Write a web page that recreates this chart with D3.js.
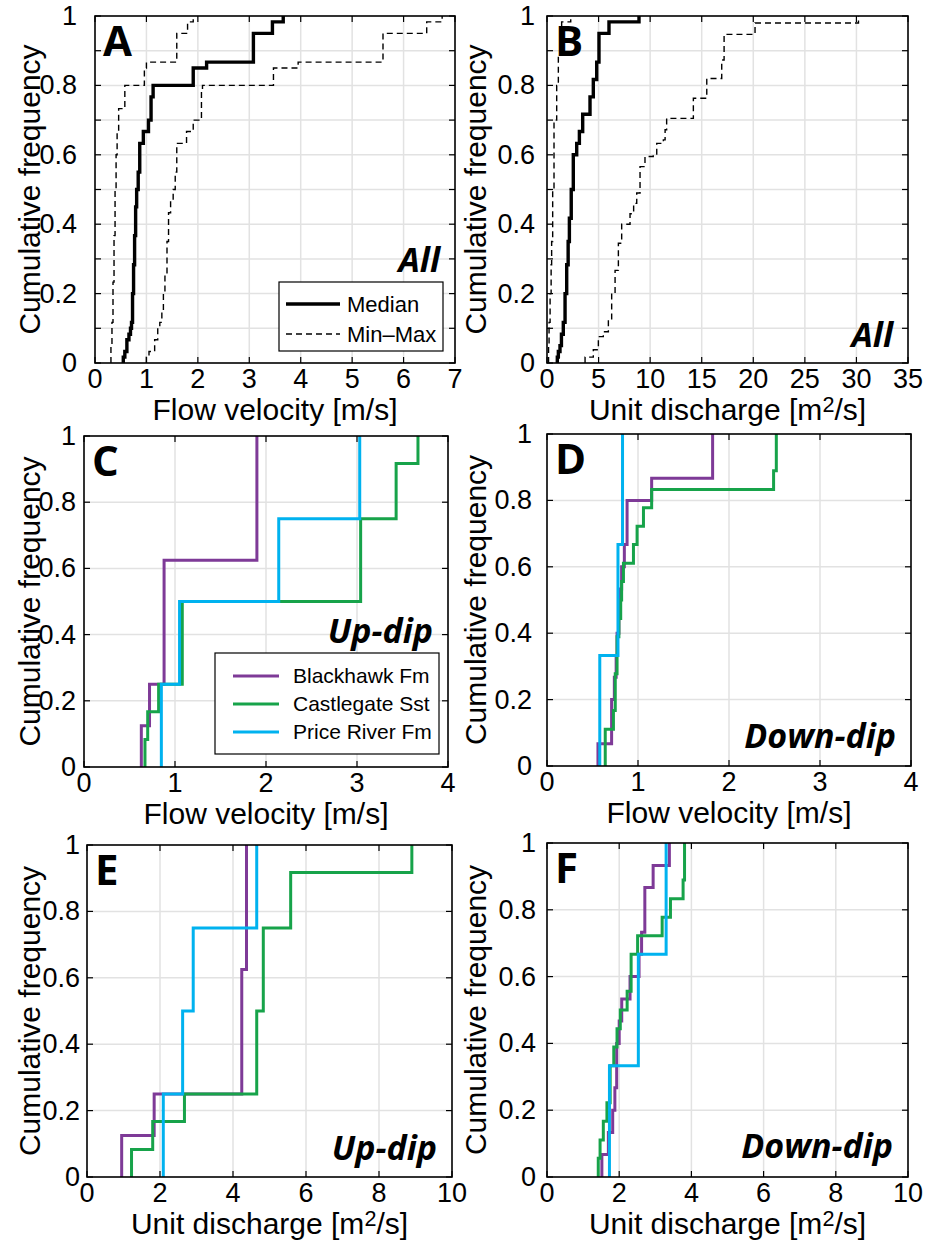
<!DOCTYPE html>
<html><head><meta charset="utf-8">
<script src="https://cdn.jsdelivr.net/npm/d3@7"></script>
<style>body{margin:0;background:#fff}svg{display:block}</style>
</head><body>
<svg id="chart" width="925" height="1247"></svg>
<script>
// ---------------- DATA ----------------
const yTickLabels = ["0", "0.2", "0.4", "0.6", "0.8", "1"];
const xTicksA = [0, 1, 2, 3, 4, 5, 6, 7];
const xTicksB = [0, 5, 10, 15, 20, 25, 30, 35];
const xTicksCD = [0, 1, 2, 3, 4];
const xTicksEF = [0, 2, 4, 6, 8, 10];
const seriesNames = ["Blackhawk Fm", "Castlegate Sst", "Price River Fm"];
const summaryNames = ["Median", "Min\u2013Max"];

// Panel A: flow velocity, all (step positions x and cumulative frequency after the step)
const aMedianX = [0.55, 0.58, 0.62, 0.66, 0.69, 0.71, 0.73, 0.75, 0.77, 0.79, 0.81, 0.84, 0.87, 0.94, 1.04, 1.09, 1.13, 1.91, 2.17, 3.08, 3.45, 3.66];
const aMedianF = [0.017, 0.033, 0.067, 0.083, 0.1, 0.117, 0.2, 0.283, 0.367, 0.45, 0.5, 0.55, 0.633, 0.667, 0.7, 0.767, 0.8, 0.85, 0.867, 0.95, 0.983, 1];
const aMinX = [0.31, 0.33, 0.35, 0.37, 0.39, 0.41, 0.43, 0.46, 0.58, 0.96, 1.0, 1.59, 1.80, 1.91];
const aMinF = [0.05, 0.117, 0.233, 0.367, 0.5, 0.6, 0.667, 0.733, 0.8, 0.85, 0.867, 0.95, 0.983, 1];
const aMaxX = [1.0, 1.05, 1.16, 1.22, 1.26, 1.30, 1.33, 1.36, 1.40, 1.43, 1.47, 1.52, 1.56, 1.59, 1.78, 1.91, 2.07, 2.09, 3.47, 3.95, 5.6, 6.45, 6.75];
const aMaxF = [0.017, 0.033, 0.067, 0.1, 0.117, 0.15, 0.2, 0.25, 0.35, 0.433, 0.467, 0.5, 0.55, 0.633, 0.667, 0.7, 0.783, 0.8, 0.85, 0.867, 0.95, 0.983, 1];

// Panel B: unit discharge, all
const bMedianX = [1.0, 1.1, 1.26, 1.4, 1.58, 1.75, 1.91, 2.05, 2.17, 2.35, 2.55, 2.88, 3.14, 3.46, 4.17, 4.49, 4.82, 5.04, 6.01, 8.92];
const bMedianF = [0.017, 0.033, 0.05, 0.083, 0.117, 0.2, 0.283, 0.35, 0.417, 0.5, 0.6, 0.633, 0.667, 0.717, 0.767, 0.817, 0.867, 0.95, 0.983, 1];
const bMinX = [0.15, 0.2, 0.3, 0.4, 0.45, 0.55, 0.68, 0.94, 1.1, 1.42, 2.3];
const bMinF = [0.05, 0.117, 0.2, 0.283, 0.35, 0.5, 0.7, 0.8, 0.883, 0.983, 1];
const bMaxX = [3.69, 4.49, 4.98, 5.46, 5.95, 6.27, 6.6, 6.92, 7.24, 8.05, 8.4, 8.7, 9.02, 9.5, 10.3, 10.64, 11.28, 11.45, 11.6, 14.19, 15.49, 16.94, 17.17, 20.17, 30.2];
const bMaxF = [0.017, 0.038, 0.076, 0.09, 0.124, 0.2, 0.267, 0.345, 0.4, 0.43, 0.46, 0.49, 0.566, 0.595, 0.6, 0.633, 0.643, 0.672, 0.705, 0.763, 0.82, 0.873, 0.947, 0.98, 1];

// Panel C: flow velocity, up-dip
const cBlackhawkX = [0.63, 0.72, 0.88, 1.90];
const cBlackhawkF = [0.125, 0.25, 0.625, 1];
const cCastlegateX = [0.67, 0.70, 0.82, 1.08, 3.04, 3.43, 3.67];
const cCastlegateF = [0.083, 0.167, 0.25, 0.5, 0.75, 0.917, 1];
const cPriceRiverX = [0.85, 1.05, 2.14, 3.03];
const cPriceRiverF = [0.25, 0.5, 0.75, 1];

// Panel D: flow velocity, down-dip
const dBlackhawkX = [0.56, 0.71, 0.74, 0.76, 0.77, 0.79, 0.80, 0.82, 0.85, 0.88, 1.15, 1.82];
const dBlackhawkF = [0.067, 0.2, 0.267, 0.333, 0.4, 0.467, 0.533, 0.6, 0.667, 0.8, 0.867, 1];
const dCastlegateX = [0.64, 0.73, 0.75, 0.77, 0.79, 0.81, 0.82, 0.84, 0.95, 0.99, 1.06, 1.15, 2.49, 2.52];
const dCastlegateF = [0.111, 0.167, 0.278, 0.389, 0.444, 0.5, 0.556, 0.611, 0.667, 0.722, 0.778, 0.833, 0.889, 1];
const dPriceRiverX = [0.58, 0.78, 0.83];
const dPriceRiverF = [0.333, 0.667, 1];

// Panel E: unit discharge, up-dip
const eBlackhawkX = [0.95, 1.84, 4.24, 4.37];
const eBlackhawkF = [0.125, 0.25, 0.625, 1];
const eCastlegateX = [1.22, 1.8, 2.67, 4.65, 4.83, 5.58, 8.9];
const eCastlegateF = [0.083, 0.167, 0.25, 0.5, 0.75, 0.917, 1];
const ePriceRiverX = [2.09, 2.62, 2.91, 4.65];
const ePriceRiverF = [0.25, 0.5, 0.75, 1];

// Panel F: unit discharge, down-dip
const fBlackhawkX = [1.52, 1.70, 1.82, 1.88, 1.93, 2.00, 2.07, 2.30, 2.55, 2.62, 2.71, 2.94, 3.39];
const fBlackhawkF = [0.067, 0.133, 0.2, 0.267, 0.4, 0.467, 0.533, 0.6, 0.667, 0.733, 0.867, 0.933, 1];
const fCastlegateX = [1.42, 1.47, 1.56, 1.66, 1.75, 1.85, 1.94, 2.03, 2.22, 2.33, 2.51, 3.19, 3.42, 3.77, 3.81];
const fCastlegateF = [0.056, 0.111, 0.167, 0.222, 0.333, 0.389, 0.444, 0.5, 0.556, 0.667, 0.722, 0.778, 0.833, 0.889, 1];
const fPriceRiverX = [1.73, 2.53, 3.30];
const fPriceRiverF = [0.333, 0.667, 1];

// ---------------- STYLE / LAYOUT ----------------
const COL = {purple: "#7E3A97", green: "#17A34A", cyan: "#00B2EF"};
const SANS = "'Liberation Sans', Arial, sans-serif";
const BOLD = "'Open Sans', 'DejaVu Sans', sans-serif";
const svg = d3.select("#chart");

function txt(g, x, y, str, o) {
  const t = g.append("text")
    .attr("transform", `translate(${x},${y})` + (o.rot ? " rotate(-90)" : ""))
    .attr("font-family", o.family || SANS)
    .attr("font-size", o.size)
    .attr("font-weight", o.weight || "normal")
    .attr("font-style", o.style || "normal")
    .attr("text-anchor", o.anchor || "start")
    .attr("fill", "#000");
  if (typeof str === "string") t.text(str); else str(t);
  return t;
}
function unitDischarge(t) {
  t.append("tspan").text("Unit discharge [m");
  t.append("tspan").attr("font-size", "0.72em").attr("dy", -8).text("2");
  t.append("tspan").attr("dy", 8).text("/s]");
}

const panels = [
  {letter: "A", box: [95, 455, 16, 363], xmax: 7, xt: xTicksA, yStep: 0.1, xlab: "Flow velocity [m/s]", tag: "All", tagY: 272,
   curves: [[aMinX, aMinF, "#000", 1.4, "6,4"], [aMaxX, aMaxF, "#000", 1.4, "6,4"], [aMedianX, aMedianF, "#000", 3.4, null]], legend: "summary", ylx: 40, ytx: 77},
  {letter: "B", box: [547, 908, 16, 363], xmax: 35, xt: xTicksB, yStep: 0.1, xlab: unitDischarge, tag: "All", tagY: 347,
   curves: [[bMinX, bMinF, "#000", 1.4, "6,4"], [bMaxX, bMaxF, "#000", 1.4, "6,4"], [bMedianX, bMedianF, "#000", 3.4, null]], ylx: 486, ytx: 535},
  {letter: "C", box: [84, 448, 436, 767], xmax: 4, xt: xTicksCD, yStep: 0.2, xlab: "Flow velocity [m/s]", tag: "Up-dip", tagY: 643,
   curves: [[cBlackhawkX, cBlackhawkF, COL.purple, 3, null], [cCastlegateX, cCastlegateF, COL.green, 3, null], [cPriceRiverX, cPriceRiverF, COL.cyan, 3, null]], legend: "formations", ylx: 40, ytx: 76},
  {letter: "D", box: [547, 911, 434, 766], xmax: 4, xt: xTicksCD, yStep: 0.2, xlab: "Flow velocity [m/s]", tag: "Down-dip", tagY: 748,
   curves: [[dBlackhawkX, dBlackhawkF, COL.purple, 3, null], [dCastlegateX, dCastlegateF, COL.green, 3, null], [dPriceRiverX, dPriceRiverF, COL.cyan, 3, null]], ylx: 486, ytx: 532},
  {letter: "E", box: [87, 452, 845, 1177], xmax: 10, xt: xTicksEF, yStep: 0.2, xlab: unitDischarge, tag: "Up-dip", tagY: 1160,
   curves: [[eBlackhawkX, eBlackhawkF, COL.purple, 3, null], [eCastlegateX, eCastlegateF, COL.green, 3, null], [ePriceRiverX, ePriceRiverF, COL.cyan, 3, null]], ylx: 40, ytx: 80},
  {letter: "F", box: [547, 908, 843, 1177], xmax: 10, xt: xTicksEF, yStep: 0.2, xlab: unitDischarge, tag: "Down-dip", tagY: 1158,
   curves: [[fBlackhawkX, fBlackhawkF, COL.purple, 3, null], [fCastlegateX, fCastlegateF, COL.green, 3, null], [fPriceRiverX, fPriceRiverF, COL.cyan, 3, null]], ylx: 486, ytx: 536}
];

panels.forEach(p => {
  const [L, R, T, B] = p.box;
  const x = d3.scaleLinear().domain([0, p.xmax]).range([L, R]);
  const y = d3.scaleLinear().domain([0, 1]).range([B, T]);
  const g = svg.append("g");

  const yMinor = d3.range(0, 1.0001, p.yStep).map(v => +v.toFixed(2));
  // grid
  g.append("g").selectAll("line").data(p.xt.slice(1, -1)).join("line")
    .attr("x1", d => x(d)).attr("x2", d => x(d)).attr("y1", T).attr("y2", B)
    .attr("stroke", "#e2e2e2").attr("stroke-width", 1.5);
  g.append("g").selectAll("line").data(yMinor.slice(1, -1)).join("line")
    .attr("x1", L).attr("x2", R).attr("y1", d => y(d)).attr("y2", d => y(d))
    .attr("stroke", "#e2e2e2").attr("stroke-width", 1.5);

  // curves
  const line = d3.line().x(d => x(d[0])).y(d => y(d[1])).curve(d3.curveStepAfter);
  p.curves.forEach(([xs, fs, col, w, dash]) => {
    const pts = [[xs[0], 0]].concat(xs.map((v, i) => [v, fs[i]]));
    g.append("path").attr("d", line(pts)).attr("fill", "none")
      .attr("stroke", col).attr("stroke-width", w)
      .attr("stroke-dasharray", dash).attr("stroke-linejoin", "miter").attr("stroke-linecap", "butt");
  });

  // axes with inward ticks on all sides
  const tl = 6;
  const ax = g.append("g").attr("stroke", "#000").attr("stroke-width", 1.2);
  p.xt.forEach(v => {
    ax.append("line").attr("x1", x(v)).attr("x2", x(v)).attr("y1", B).attr("y2", B - tl);
    ax.append("line").attr("x1", x(v)).attr("x2", x(v)).attr("y1", T).attr("y2", T + tl);
  });
  yMinor.forEach(v => {
    ax.append("line").attr("x1", L).attr("x2", L + tl).attr("y1", y(v)).attr("y2", y(v));
    ax.append("line").attr("x1", R).attr("x2", R - tl).attr("y1", y(v)).attr("y2", y(v));
  });
  g.append("rect").attr("x", L).attr("y", T).attr("width", R - L).attr("height", B - T)
    .attr("fill", "none").attr("stroke", "#000").attr("stroke-width", 1.6);

  // tick labels
  p.xt.forEach(v => txt(g, x(v), B + 25, String(v), {size: 27, anchor: "middle"}));
  yTickLabels.forEach(s => txt(g, p.ytx, y(+s) + 9, s, {size: 27, anchor: "end"}));

  // axis labels
  txt(g, (L + R) / 2, B + 57, p.xlab, {size: 30, anchor: "middle"});
  txt(g, p.ylx, (T + B) / 2, "Cumulative frequency", {size: 30, anchor: "middle", rot: true});

  // panel letter and tag
  txt(g, L + 8, T + 40, p.letter, {size: 42, weight: 700, family: BOLD});
  txt(g, R - 15, p.tagY, p.tag, {size: 34, weight: 700, style: "italic", family: BOLD, anchor: "end"});

  // legends
  if (p.legend === "summary") {
    const lg = g.append("g");
    lg.append("rect").attr("x", 279).attr("y", 282).attr("width", 164).attr("height", 69)
      .attr("fill", "#fff").attr("stroke", "#000").attr("stroke-width", 1.2);
    const rows = [[summaryNames[0], 3.4, null, 304], [summaryNames[1], 1.4, "6,4", 334]];
    rows.forEach(([name, w, dash, yy]) => {
      lg.append("line").attr("x1", 286).attr("x2", 340).attr("y1", yy).attr("y2", yy)
        .attr("stroke", "#000").attr("stroke-width", w).attr("stroke-dasharray", dash);
      txt(lg, 347, yy + 8, name, {size: 22});
    });
  }
  if (p.legend === "formations") {
    const lg = g.append("g");
    lg.append("rect").attr("x", 215).attr("y", 653).attr("width", 224).attr("height", 101)
      .attr("fill", "#fff").attr("stroke", "#000").attr("stroke-width", 1.2);
    const cols = [COL.purple, COL.green, COL.cyan];
    [676, 704, 732].forEach((yy, i) => {
      lg.append("line").attr("x1", 233).attr("x2", 279).attr("y1", yy).attr("y2", yy)
        .attr("stroke", cols[i]).attr("stroke-width", 3);
      txt(lg, 293, yy + 7, seriesNames[i], {size: 21});
    });
  }
});
</script>
</body></html>
